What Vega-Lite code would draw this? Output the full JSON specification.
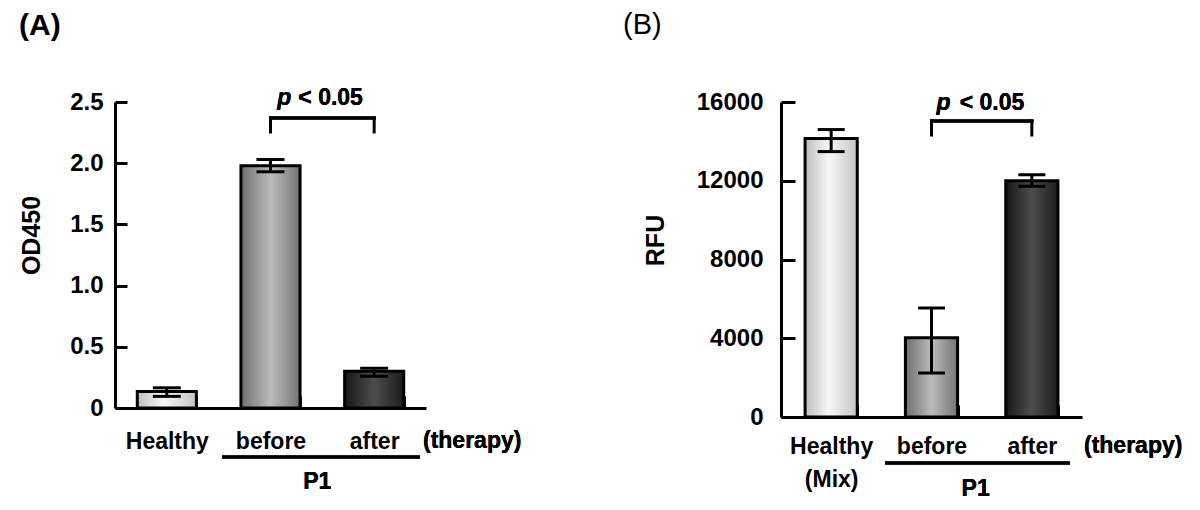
{
  "$schema": "https://vega.github.io/schema/vega-lite/v6.json",
  "background": "white",
  "padding": {"left": 19, "top": 11, "right": 5, "bottom": 5},
  "bounds": "flush",
  "spacing": 355,
  "config": {
    "view": {"stroke": null},
    "font": "Liberation Sans",
    "axis": {"labelColor": "black", "titleColor": "black", "domainColor": "black", "tickColor": "black", "labelFont": "Liberation Sans", "titleFont": "Liberation Sans", "labelFontWeight": "bold", "titleFontWeight": "bold", "grid": false, "domainWidth": 3, "tickWidth": 3}
  },
  "datasets": {
    "od": [
      {"group": "Healthy", "value": 0.135, "lo": 0.095, "hi": 0.165},
      {"group": "before", "value": 1.98, "lo": 1.93, "hi": 2.03},
      {"group": "after", "value": 0.30, "lo": 0.26, "hi": 0.325}
    ],
    "rfu": [
      {"group": "Healthy (Mix)", "value": 14150, "lo": 13480, "hi": 14600},
      {"group": "before", "value": 4030, "lo": 2235, "hi": 5536},
      {"group": "after", "value": 12000, "lo": 11720, "hi": 12300}
    ]
  },
  "hconcat": [
    {
      "width": 311,
      "height": 306,
      "title": {"text": "(A)", "anchor": "start", "frame": "bounds", "fontSize": 30, "font": "Liberation Sans", "fontWeight": "bold", "color": "black", "offset": 46},
      "data": {"name": "od"},
      "layer": [
        {
          "transform": [{"filter": "datum.group == 'Healthy'"}],
          "mark": {"type": "bar", "stroke": "black", "strokeWidth": 3, "fill": {"gradient": "linear", "x1": 0, "y1": 0, "x2": 1, "y2": 0, "stops": [{"offset": 0, "color": "#bdbdbd"}, {"offset": 0.45, "color": "#f7f7f7"}, {"offset": 1, "color": "#c4c4c4"}]}},
          "encoding": {
            "x": {"field": "group", "type": "nominal", "scale": {"domain": ["Healthy", "before", "after"], "paddingInner": 0.43, "paddingOuter": 0.215},
              "axis": {"title": null, "labelAngle": 0, "labelFontSize": 23, "labelBaseline": "alphabetic", "labelPadding": 52, "tickBand": "extent", "tickSize": -12}},
            "y": {"field": "value", "type": "quantitative", "scale": {"domain": [0, 2.5], "nice": false},
              "axis": {"title": "OD450", "titleFontSize": 25, "titleBaseline": "alphabetic", "titleX": -76, "titleY": 133, "values": [0, 0.5, 1, 1.5, 2, 2.5], "labelExpr": "datum.value == 0 ? '0' : format(datum.value, '.1f')", "labelFontSize": 24, "tickSize": -12, "labelPadding": 24}}
          }
        },
        {
          "transform": [{"filter": "datum.group == 'before'"}],
          "mark": {"type": "bar", "stroke": "black", "strokeWidth": 3, "fill": {"gradient": "linear", "x1": 0, "y1": 0, "x2": 1, "y2": 0, "stops": [{"offset": 0, "color": "#6e6e6e"}, {"offset": 0.5, "color": "#bcbcbc"}, {"offset": 1, "color": "#747474"}]}},
          "encoding": {"x": {"field": "group", "type": "nominal"}, "y": {"field": "value", "type": "quantitative"}}
        },
        {
          "transform": [{"filter": "datum.group == 'after'"}],
          "mark": {"type": "bar", "stroke": "black", "strokeWidth": 3, "fill": {"gradient": "linear", "x1": 0, "y1": 0, "x2": 1, "y2": 0, "stops": [{"offset": 0, "color": "#161616"}, {"offset": 0.5, "color": "#4d4d4d"}, {"offset": 1, "color": "#1c1c1c"}]}},
          "encoding": {"x": {"field": "group", "type": "nominal"}, "y": {"field": "value", "type": "quantitative"}}
        },
        {
          "mark": {"type": "rule", "color": "black", "strokeWidth": 3},
          "encoding": {"x": {"field": "group", "type": "nominal"}, "y": {"field": "lo", "type": "quantitative"}, "y2": {"field": "hi"}}
        },
        {
          "mark": {"type": "tick", "orient": "horizontal", "color": "black", "opacity": 1, "size": 28, "thickness": 3},
          "encoding": {"x": {"field": "group", "type": "nominal"}, "y": {"field": "lo", "type": "quantitative"}}
        },
        {
          "mark": {"type": "tick", "orient": "horizontal", "color": "black", "opacity": 1, "size": 28, "thickness": 3},
          "encoding": {"x": {"field": "group", "type": "nominal"}, "y": {"field": "hi", "type": "quantitative"}}
        },
        {
          "mark": {"type": "rule", "color": "black", "strokeWidth": 3, "strokeCap": "square"},
          "encoding": {"x": {"datum": "before"}, "x2": {"datum": "after"}, "y": {"datum": 2.37}}
        },
        {
          "transform": [{"filter": "datum.group != 'Healthy'"}],
          "mark": {"type": "rule", "color": "black", "strokeWidth": 3, "strokeCap": "square"},
          "encoding": {"x": {"field": "group", "type": "nominal"}, "y": {"datum": 2.255}, "y2": {"datum": 2.37}}
        },
        {
          "mark": {"type": "text", "text": "p", "font": "Liberation Sans", "fontStyle": "italic", "fontWeight": "bold", "fontSize": 23, "align": "right", "baseline": "alphabetic", "dx": -31, "color": "black"},
          "encoding": {"x": {"datum": "before", "bandPosition": 1.377}, "y": {"datum": 2.475}}
        },
        {
          "mark": {"type": "text", "text": "< 0.05", "font": "Liberation Sans", "fontWeight": "bold", "fontSize": 23, "align": "left", "baseline": "alphabetic", "dx": -24, "color": "black"},
          "encoding": {"x": {"datum": "before", "bandPosition": 1.377}, "y": {"datum": 2.475}}
        },
        {
          "mark": {"type": "text", "text": "(therapy)", "font": "Liberation Sans", "fontWeight": "bold", "fontSize": 23, "align": "left", "baseline": "alphabetic", "dx": -3, "color": "black"},
          "encoding": {"x": {"datum": "after", "bandPosition": 1.377}, "y": {"datum": -0.327}}
        },
        {
          "mark": {"type": "rule", "color": "black", "strokeWidth": 3},
          "encoding": {"x": {"datum": "before", "bandPosition": -0.32}, "x2": {"datum": "after", "bandPosition": 1.275}, "y": {"datum": -0.40}}
        },
        {
          "mark": {"type": "text", "text": "P1", "font": "Liberation Sans", "fontWeight": "bold", "fontSize": 23, "align": "center", "baseline": "alphabetic", "dx": -5, "color": "black"},
          "encoding": {"x": {"datum": "before", "bandPosition": 1.377}, "y": {"datum": -0.662}}
        }
      ]
    },
    {
      "width": 301,
      "height": 315,
      "title": {"text": "(B)", "anchor": "start", "frame": "bounds", "fontSize": 29, "font": "Liberation Sans", "fontWeight": "normal", "color": "black", "offset": 50, "dx": -20},
      "data": {"name": "rfu"},
      "layer": [
        {
          "transform": [{"filter": "datum.group == 'Healthy (Mix)'"}],
          "mark": {"type": "bar", "stroke": "black", "strokeWidth": 3, "fill": {"gradient": "linear", "x1": 0, "y1": 0, "x2": 1, "y2": 0, "stops": [{"offset": 0, "color": "#bdbdbd"}, {"offset": 0.45, "color": "#f7f7f7"}, {"offset": 1, "color": "#c4c4c4"}]}},
          "encoding": {
            "x": {"field": "group", "type": "nominal", "scale": {"domain": ["Healthy (Mix)", "before", "after"], "paddingInner": 0.48, "paddingOuter": 0.24},
              "axis": {"title": null, "labelAngle": 0, "labelFontSize": 23, "labelBaseline": "alphabetic", "labelPadding": 48, "labelLineHeight": 33, "labelExpr": "split(datum.label, ' ')", "tickBand": "extent", "tickSize": -12}},
            "y": {"field": "value", "type": "quantitative", "scale": {"domain": [0, 16000], "nice": false},
              "axis": {"title": "RFU", "titleFontSize": 25, "titleBaseline": "alphabetic", "titleX": -118, "titleY": 138, "values": [0, 4000, 8000, 12000, 16000], "format": "d", "labelFontSize": 24, "tickSize": -14, "labelPadding": 32}}
          }
        },
        {
          "transform": [{"filter": "datum.group == 'before'"}],
          "mark": {"type": "bar", "stroke": "black", "strokeWidth": 3, "fill": {"gradient": "linear", "x1": 0, "y1": 0, "x2": 1, "y2": 0, "stops": [{"offset": 0, "color": "#6e6e6e"}, {"offset": 0.5, "color": "#bcbcbc"}, {"offset": 1, "color": "#747474"}]}},
          "encoding": {"x": {"field": "group", "type": "nominal"}, "y": {"field": "value", "type": "quantitative"}}
        },
        {
          "transform": [{"filter": "datum.group == 'after'"}],
          "mark": {"type": "bar", "stroke": "black", "strokeWidth": 3, "fill": {"gradient": "linear", "x1": 0, "y1": 0, "x2": 1, "y2": 0, "stops": [{"offset": 0, "color": "#161616"}, {"offset": 0.5, "color": "#4d4d4d"}, {"offset": 1, "color": "#1c1c1c"}]}},
          "encoding": {"x": {"field": "group", "type": "nominal"}, "y": {"field": "value", "type": "quantitative"}}
        },
        {
          "mark": {"type": "rule", "color": "black", "strokeWidth": 3},
          "encoding": {"x": {"field": "group", "type": "nominal"}, "y": {"field": "lo", "type": "quantitative"}, "y2": {"field": "hi"}}
        },
        {
          "mark": {"type": "tick", "orient": "horizontal", "color": "black", "opacity": 1, "size": 27, "thickness": 3},
          "encoding": {"x": {"field": "group", "type": "nominal"}, "y": {"field": "lo", "type": "quantitative"}}
        },
        {
          "mark": {"type": "tick", "orient": "horizontal", "color": "black", "opacity": 1, "size": 27, "thickness": 3},
          "encoding": {"x": {"field": "group", "type": "nominal"}, "y": {"field": "hi", "type": "quantitative"}}
        },
        {
          "mark": {"type": "rule", "color": "black", "strokeWidth": 3, "strokeCap": "square"},
          "encoding": {"x": {"datum": "before"}, "x2": {"datum": "after"}, "y": {"datum": 15035}}
        },
        {
          "transform": [{"filter": "datum.group != 'Healthy (Mix)'"}],
          "mark": {"type": "rule", "color": "black", "strokeWidth": 3, "strokeCap": "square"},
          "encoding": {"x": {"field": "group", "type": "nominal"}, "y": {"datum": 14323}, "y2": {"datum": 15035}}
        },
        {
          "mark": {"type": "text", "text": "p", "font": "Liberation Sans", "fontStyle": "italic", "fontWeight": "bold", "fontSize": 23, "align": "right", "baseline": "alphabetic", "dx": -31, "color": "black"},
          "encoding": {"x": {"datum": "before", "bandPosition": 1.4615}, "y": {"datum": 15593}}
        },
        {
          "mark": {"type": "text", "text": "< 0.05", "font": "Liberation Sans", "fontWeight": "bold", "fontSize": 23, "align": "left", "baseline": "alphabetic", "dx": -22, "color": "black"},
          "encoding": {"x": {"datum": "before", "bandPosition": 1.4615}, "y": {"datum": 15593}}
        },
        {
          "mark": {"type": "text", "text": "(therapy)", "font": "Liberation Sans", "fontWeight": "bold", "fontSize": 23, "align": "left", "baseline": "alphabetic", "dx": 2, "color": "black"},
          "encoding": {"x": {"datum": "after", "bandPosition": 1.4615}, "y": {"datum": -1829}}
        },
        {
          "mark": {"type": "rule", "color": "black", "strokeWidth": 3},
          "encoding": {"x": {"datum": "before", "bandPosition": -0.39}, "x2": {"datum": "after", "bandPosition": 1.232}, "y": {"datum": -2336}}
        },
        {
          "mark": {"type": "text", "text": "P1", "font": "Liberation Sans", "fontWeight": "bold", "fontSize": 23, "align": "center", "baseline": "alphabetic", "dx": -6, "color": "black"},
          "encoding": {"x": {"datum": "before", "bandPosition": 1.4615}, "y": {"datum": -4013}}
        }
      ]
    }
  ]
}
